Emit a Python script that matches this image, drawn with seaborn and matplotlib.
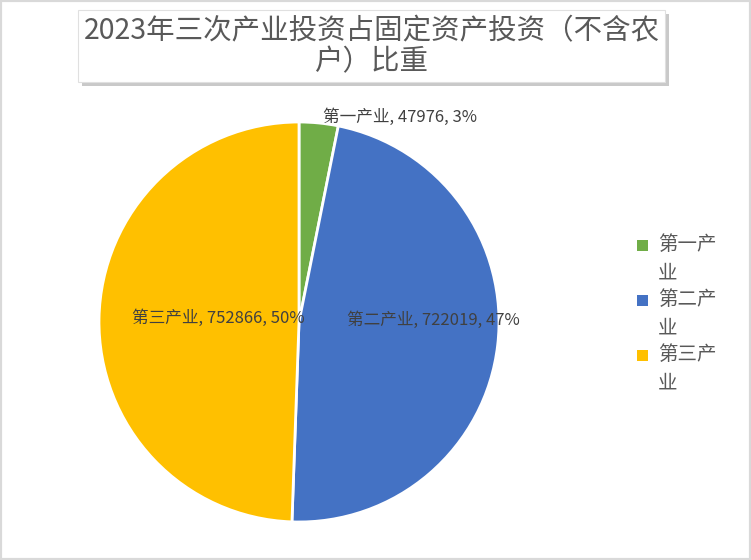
import matplotlib
matplotlib.use("Agg")
import matplotlib.pyplot as plt
import seaborn as sns
from matplotlib.patches import Rectangle

sns.set_style("white")
plt.rcParams['font.family'] = ['Noto Sans CJK SC', 'DejaVu Sans']

# Data
categories = ['第一产业', '第二产业', '第三产业']
values = [47976, 722019, 752866]
percents = ['3%', '47%', '50%']
legend_labels = ['第一产\n业', '第二产\n业', '第三产\n业']
colors = ['#70AD47', '#4472C4', '#FFC000']
title = '2023年三次产业投资占固定资产投资（不含农\n户）比重'

W, H = 751, 560
fig = plt.figure(figsize=(W / 100, H / 100), dpi=100)

# outer light-gray frame
fig.patches.append(Rectangle((0, 0), 1, 1, transform=fig.transFigure,
                             facecolor='white', edgecolor='#D9D9D9', linewidth=3, zorder=-10))

# Pie axes
ax = fig.add_axes([99 / W, (H - 522) / H, 400 / W, 400 / H])
wedges, _ = ax.pie(values, colors=colors, startangle=90, counterclock=False,
                   wedgeprops=dict(edgecolor='white', linewidth=2))
ax.set_xlim(-1, 1)
ax.set_ylim(-1, 1)
ax.set_aspect('equal')
ax.axis('off')

# data labels
label_pos = [(0.505, 1.025), (0.67, 0.01), (-0.405, 0.02)]
for cat, v, p, (x, y) in zip(categories, values, percents, label_pos):
    ax.text(x, y, f'{cat}, {v}, {p}', ha='center', va='center',
            fontsize=12, color='#404040')

# Title box with shadow
bx0, by0, bx1, by1 = 78, 10, 665, 82
fig.patches.append(Rectangle(((bx0 + 4) / W, (H - by1 - 4) / H), (bx1 - bx0) / W, (by1 - by0) / H,
                             transform=fig.transFigure, facecolor='#A6A6A6', edgecolor='none',
                             alpha=0.6, zorder=1))
fig.patches.append(Rectangle((bx0 / W, (H - by1) / H), (bx1 - bx0) / W, (by1 - by0) / H,
                             transform=fig.transFigure, facecolor='white', edgecolor='#E0E0E0',
                             linewidth=0.8, zorder=2))
fig.text((bx0 + bx1) / 2 / W, 1 - 47 / H, title, ha='center', va='center',
         multialignment='center', fontsize=20.5, color='#595959', linespacing=1.05, zorder=3)

# Legend (drawn by hand so the square sits on the first line of each wrapped label)
for i, (lab, c) in enumerate(zip(legend_labels, colors)):
    yc = 245 + 55 * i
    fig.patches.append(Rectangle((637 / W, 1 - (yc + 6) / H), 11 / W, 11 / H,
                                 transform=fig.transFigure, facecolor=c, edgecolor='none'))
    fig.text(658 / W, 1 - (yc - 11) / H, lab, ha='left', va='top', fontsize=14,
             color='#595959', linespacing=1.45)

fig.savefig('out.png', dpi=100)
